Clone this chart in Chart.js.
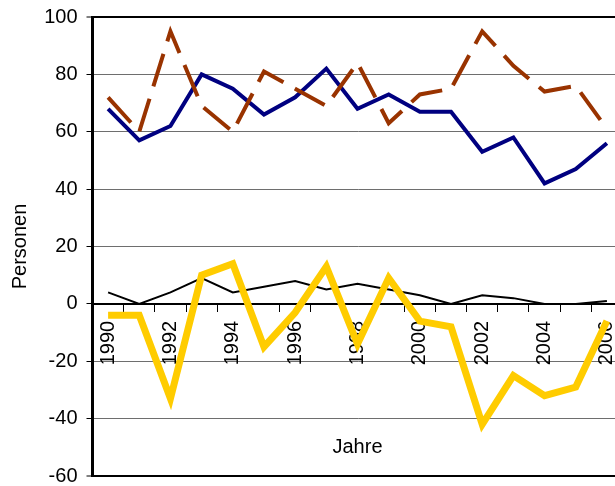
<!DOCTYPE html>
<html lang="de">
<head>
<meta charset="utf-8">
<title>Personen nach Jahren</title>
<script src="https://cdn.jsdelivr.net/npm/chart.js@4"></script>
<style>
    html, body { margin: 0; padding: 0; overflow: hidden; background: #fff; }
    #wrap { width: 648px; height: 509px; margin-top: -8px; }
</style>
</head>
<body>
<div id="wrap"><canvas id="chart" width="648" height="509"></canvas></div>
<script>
// === Daten ===
const jahre = ['1990', '1991', '1992', '1993', '1994', '1995', '1996', '1997', '1998',
               '1999', '2000', '2001', '2002', '2003', '2004', '2005', '2006'];

const serieBlau    = [68, 57, 62, 80, 75, 66, 72, 82, 68, 73, 67, 67, 53, 58, 42, 47, 56];
const serieBraun   = [72, 60, 95, 69, 60, 81, 75, 69, 84, 63, 73, 75, 95, 83, 74, 76, 61];
const serieSchwarz = [4, 0, 4, 9, 4, 6, 8, 5, 7, 5, 3, 0, 3, 2, 0, 0, 1];
const serieGelb    = [-4, -4, -33, 10, 14, -15, -3, 13, -14, 9, -6, -8, -42, -25, -32, -29, -6];

const yTicks = [-60, -40, -20, 0, 20, 40, 60, 80, 100];

const yTitel = 'Personen';
const xTitel = 'Jahre';

// === Stil ===
const schrift = 'Arial, "Liberation Sans", sans-serif';

// "Jahre" sitzt im Diagramm unter den Jahreszahlen
const xTitelPlugin = {
    id: 'xTitel',
    afterDraw(chart) {
        const { ctx, chartArea, scales } = chart;
        ctx.save();
        ctx.font = '20px ' + schrift;
        ctx.fillStyle = '#000';
        ctx.textAlign = 'center';
        ctx.textBaseline = 'middle';
        ctx.fillText(xTitel, (chartArea.left + chartArea.right) / 2, scales.y.getPixelForValue(-50));
        ctx.restore();
    }
};

new Chart(document.getElementById('chart'), {
    type: 'line',
    data: {
        labels: jahre,
        datasets: [
            { data: serieBlau, borderColor: '#000080', borderWidth: 4, order: 3 },
            { data: serieBraun, borderColor: '#993300', borderWidth: 4, borderDash: [34, 13], order: 2 },
            { data: serieSchwarz, borderColor: '#000000', borderWidth: 2, order: 1 },
            { data: serieGelb, borderColor: '#FFCC00', borderWidth: 7, order: 0 }
        ]
    },
    options: {
        responsive: false,
        animation: false,
        layout: { padding: { top: 25, right: 25.5, bottom: 25, left: 0 } },
        elements: {
            point: { radius: 0, hoverRadius: 0 },
            line: { tension: 0, fill: false }
        },
        scales: {
            x: {
                position: { y: 0 },
                offset: true,
                grid: { drawOnChartArea: false, offset: true, tickLength: 7, tickColor: '#000', tickWidth: 1 },
                border: { color: '#000', width: 2 },
                ticks: {
                    autoSkip: false,
                    minRotation: 90,
                    maxRotation: 90,
                    padding: 10,
                    color: '#000',
                    font: { family: schrift, size: 20 },
                    callback: function (val, i) {
                        return i % 2 === 0 ? this.getLabelForValue(val) : '';
                    }
                }
            },
            y: {
                min: -60,
                max: 100,
                afterFit: (scale) => { scale.width = 92.5; },
                afterBuildTicks: (scale) => { scale.ticks = yTicks.map(v => ({ value: v })); },
                grid: {
                    color: (c) => (c.tick && (c.tick.value === 100 || c.tick.value === -60)) ? '#000' : '#6e6e6e',
                    lineWidth: (c) => (c.tick && (c.tick.value === 100 || c.tick.value === -60)) ? 2 : 1,
                    tickLength: 6,
                    tickColor: '#000',
                    tickWidth: 1
                },
                border: { color: '#000', width: 3 },
                ticks: {
                    padding: 9,
                    color: '#000',
                    font: { family: schrift, size: 20 }
                },
                title: {
                    display: true,
                    text: yTitel,
                    color: '#000',
                    font: { family: schrift, size: 20 },
                    padding: { top: 8, bottom: 0 }
                }
            }
        },
        plugins: {
            legend: { display: false },
            tooltip: { enabled: false }
        }
    },
    plugins: [xTitelPlugin]
});
</script>
</body>
</html>
